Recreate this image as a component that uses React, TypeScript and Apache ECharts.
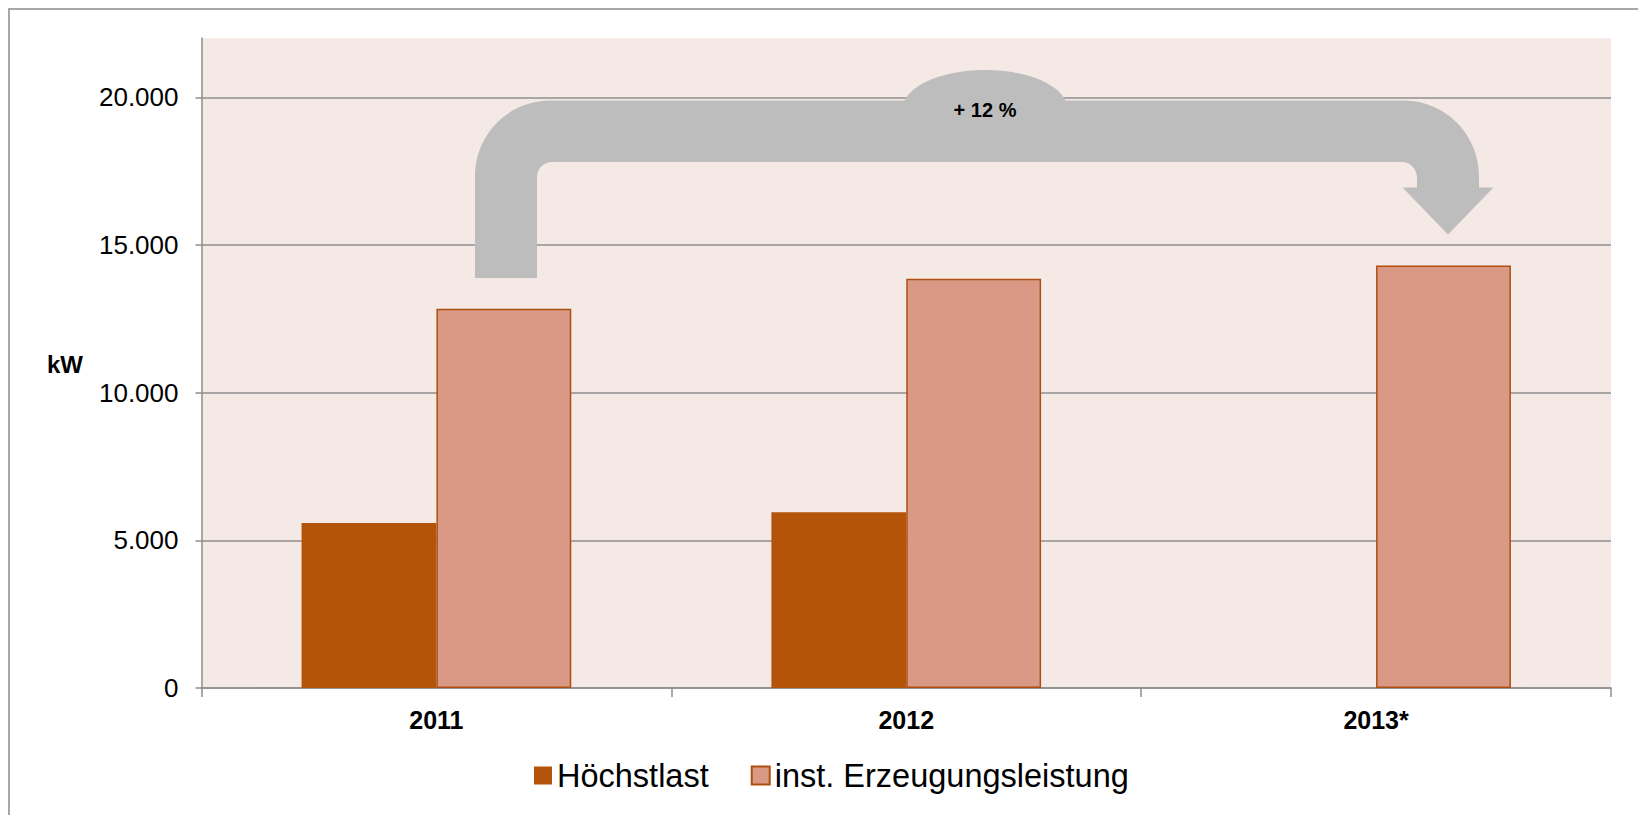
import React, { useEffect, useRef } from 'react';
import * as echarts from 'echarts';

// ---- data ----
const categories: string[] = ['2011', '2012', '2013*'];
const hoechstlast: (number | null)[] = [5590, 5950, null];
const erzeugung: number[] = [12840, 13855, 14310];
const yTickValues: number[] = [0, 5000, 10000, 15000, 20000];
const yMax = 22000;
const growthLabel = '+ 12 %';
const unitLabel = 'kW';
const seriesNames = ['Höchstlast', 'inst. Erzeugungsleistung'];

const FONT = '"Liberation Sans", Arial, Helvetica, sans-serif';
const GRID_GRAY = '#8E8E8E';
const ARROW_GRAY = '#BDBDBD';

const fmt = (v: number) => String(v).replace(/\B(?=(\d{3})+(?!\d))/g, '.');

// growth arrow annotation outline (pixel space)
const ARROW_PATH =
  'M 475 278 L 475 176 C 475 134.6 508.6 100.5 550 100.5 ' +
  'L 1404 100.5 C 1445.4 100.5 1479 134.6 1479 176 ' +
  'L 1479 187.5 L 1493.5 187.5 L 1448 234.5 L 1402.5 187.5 L 1417 187.5 ' +
  'L 1417 178 C 1417 169.2 1410.3 162 1402 162 ' +
  'L 552 162 C 543.7 162 537 168.7 537 177 L 537 278 Z';

export default function App() {
  const ref = useRef<HTMLDivElement>(null);

  useEffect(() => {
    if (!ref.current) return;
    echarts.graphic.registerShape('growthArrow', echarts.graphic.extendPath(ARROW_PATH, {}) as any);
    const chart = echarts.init(ref.current, null, { renderer: 'svg' });
    chart.setOption({
      animation: false,
      backgroundColor: '#FFFFFF',
      textStyle: { fontFamily: FONT },
      grid: {
        left: 201.5,
        top: 38.3,
        right: 27,
        bottom: 127,
        containLabel: false,
        show: true,
        backgroundColor: '#F5E9E5',
        borderWidth: 0,
      },
      legend: {
        left: 534,
        top: 759,
        padding: 0,
        itemWidth: 18,
        itemHeight: 18,
        itemGap: 42,
        icon: 'rect',
        textStyle: { fontSize: 32.5, color: '#000', fontFamily: FONT },
        data: seriesNames,
      },
      xAxis: {
        type: 'category',
        data: categories,
        axisLine: { show: true, lineStyle: { color: GRID_GRAY, width: 1.5 } },
        axisTick: { show: true, length: 9, lineStyle: { color: GRID_GRAY, width: 1.5 } },
        axisLabel: { fontSize: 25, fontWeight: 'bold', color: '#000', margin: 19, fontFamily: FONT },
        splitLine: { show: false },
      },
      yAxis: {
        type: 'value',
        min: 0,
        max: yMax,
        interval: 5000,
        axisLine: { show: true, lineStyle: { color: GRID_GRAY, width: 1.5 } },
        axisTick: { show: true, length: 6, customValues: yTickValues, lineStyle: { color: GRID_GRAY, width: 1.5 } },
        axisLabel: {
          fontSize: 26,
          color: '#000',
          margin: 23,
          fontFamily: FONT,
          customValues: yTickValues,
          formatter: (v: number) => fmt(v),
        },
        splitLine: { show: true, lineStyle: { color: GRID_GRAY, width: 1.5 } },
      },
      series: [
        {
          name: seriesNames[0],
          type: 'bar',
          data: hoechstlast,
          barGap: '0%',
          barCategoryGap: '42.6%',
          itemStyle: { color: '#B4530A', borderColor: '#B4530A', borderWidth: 0 },
        },
        {
          name: seriesNames[1],
          type: 'bar',
          data: erzeugung,
          barGap: '0%',
          barCategoryGap: '42.6%',
          itemStyle: { color: '#DA9985', borderColor: '#AE4F10', borderWidth: 1.5 },
        },
      ],
      graphic: [
        {
          type: 'rect',
          silent: true,
          z: 0,
          shape: { x: 9, y: 9, width: 1700, height: 900 },
          style: { fill: 'none', stroke: '#8C8C8C', lineWidth: 1.5 },
        },
        { type: 'growthArrow', x: 0, y: 0, z: 50, silent: true, style: { fill: ARROW_GRAY } },
        {
          type: 'ellipse',
          z: 50,
          silent: true,
          shape: { cx: 985, cy: 108.4, rx: 82, ry: 38.4 },
          style: { fill: ARROW_GRAY },
        },
        {
          type: 'text',
          z: 51,
          x: 985,
          y: 110,
          style: {
            text: growthLabel,
            fontSize: 20,
            fontWeight: 'bold',
            fontFamily: FONT,
            fill: '#000',
            align: 'center',
            verticalAlign: 'middle',
          },
        },
        {
          type: 'text',
          z: 51,
          x: 65,
          y: 364,
          style: {
            text: unitLabel,
            fontSize: 24,
            fontWeight: 'bold',
            fontFamily: FONT,
            fill: '#000',
            align: 'center',
            verticalAlign: 'middle',
          },
        },
      ],
    });
    return () => chart.dispose();
  }, []);

  return (
    <div
      ref={ref}
      style={{ position: 'absolute', left: 0, top: 0, width: 1638, height: 815, background: '#fff' }}
    />
  );
}
